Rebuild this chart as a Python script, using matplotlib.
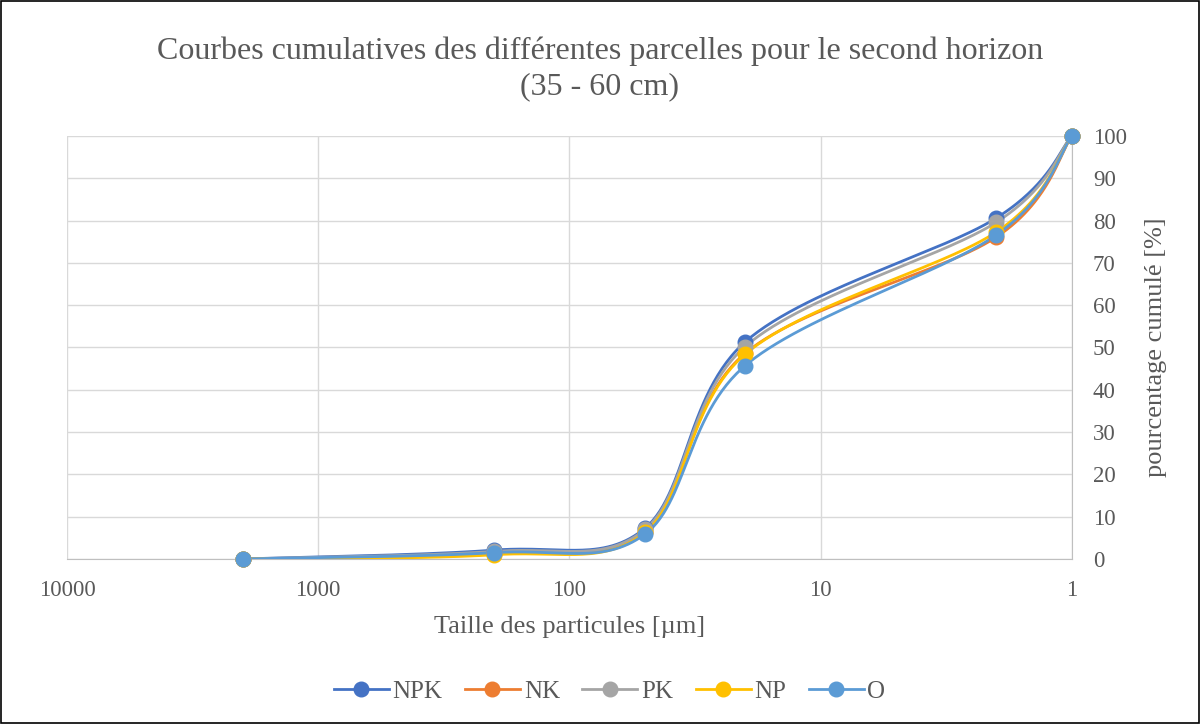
import numpy as np
import matplotlib.pyplot as plt
from matplotlib.lines import Line2D
from matplotlib.patches import Rectangle
from matplotlib.ticker import FixedLocator, FixedFormatter, NullLocator

plt.rcParams['font.family'] = ['Liberation Serif', 'DejaVu Serif']

# particle sizes (µm) and cumulative percentages
sizes = [2000, 200, 50, 20, 2, 1]
npk = [0, 2.1, 7.3, 51.3, 80.6, 100]
nk = [0, 1.2, 6.5, 48.6, 76.1, 100]
pk = [0, 1.8, 7.0, 50.2, 79.6, 100]
np_ = [0, 1.0, 6.3, 48.4, 77.3, 100]
o = [0, 1.5, 5.9, 45.7, 76.6, 100]

series = [('NPK', npk, '#4472C4'), ('NK', nk, '#ED7D31'), ('PK', pk, '#A5A5A5'),
          ('NP', np_, '#FFC000'), ('O', o, '#5B9BD5')]

x_ticks = [10000, 1000, 100, 10, 1]
x_labels = ['10000', '1000', '100', '10', '1']
y_ticks = list(range(0, 101, 10))

W, H = 1005.0, 423.0  # plot size in px, used for excel-like smoothing


def smooth(xs, ys, n=60):
    # catmull-rom style bezier in screen space (like excel smoothed lines)
    u = (4 - np.log10(xs)) / 4 * W
    v = np.asarray(ys, dtype=float) / 100 * H
    pts = np.column_stack([u, v])
    out = []
    for i in range(len(pts) - 1):
        p0 = pts[i - 1] if i > 0 else pts[i]
        p1, p2 = pts[i], pts[i + 1]
        p3 = pts[i + 2] if i + 2 < len(pts) else pts[i + 1]
        c1 = p1 + (p2 - p0) / 6
        c2 = p2 - (p3 - p1) / 6
        t = np.linspace(0, 1, n)[:, None]
        seg = (1 - t) ** 3 * p1 + 3 * (1 - t) ** 2 * t * c1 + 3 * (1 - t) * t ** 2 * c2 + t ** 3 * p2
        out.append(seg)
    out = np.vstack(out)
    return 10 ** (4 - out[:, 0] / W * 4), out[:, 1] / H * 100


fig = plt.figure(figsize=(12, 7.24), dpi=100)
ax = fig.add_axes([0.0558, 0.2279, 0.8375, 0.5843])

for name, vals, col in series:
    sx, sy = smooth(sizes, vals)
    ax.plot(sx, sy, color=col, lw=2, zorder=3, solid_capstyle='round')
    ax.plot(sizes, vals, 'o', color=col, ms=10.5, zorder=4, clip_on=False)

ax.set_xscale('log')
ax.set_xlim(10000, 1)
ax.set_ylim(0, 100)
ax.xaxis.set_major_locator(FixedLocator(x_ticks))
ax.xaxis.set_major_formatter(FixedFormatter(x_labels))
ax.xaxis.set_minor_locator(NullLocator())
ax.yaxis.tick_right()
ax.yaxis.set_label_position('right')
ax.set_yticks(y_ticks)
ax.tick_params(length=0, labelsize=16.5, labelcolor='#595959')
ax.tick_params(axis='x', pad=15)
ax.tick_params(axis='y', pad=15)
ax.grid(True, color='#d9d9d9', lw=1)
for s in ['top', 'left']:
    ax.spines[s].set_visible(False)
ax.spines['bottom'].set_color('#bfbfbf')
ax.spines['right'].set_color('#bfbfbf')

ax.set_xlabel('Taille des particules [µm]', fontsize=19, color='#595959', labelpad=11)
ax.set_ylabel('pourcentage cumulé [%]', fontsize=19, color='#595959', rotation=90, labelpad=13)

fig.text(0.5, 0.905, 'Courbes cumulatives des différentes parcelles pour le second horizon\n(35 - 60 cm)',
         ha='center', va='center', fontsize=23, color='#595959', linespacing=1.3)

handles = [Line2D([0], [0], color=c, lw=2, marker='o', ms=10.5) for _, _, c in series]
fig.legend(handles, [n for n, _, _ in series], loc='center', bbox_to_anchor=(0.508, 0.045),
           ncol=5, frameon=False, fontsize=18, handlelength=2.2, columnspacing=0.9,
           handletextpad=0.15, labelcolor='#595959')

fig.patches.append(Rectangle((0.001, 0.001), 0.998, 0.998, transform=fig.transFigure,
                             fill=False, edgecolor='black', lw=1.2))

fig.savefig('out.png', dpi=100)
